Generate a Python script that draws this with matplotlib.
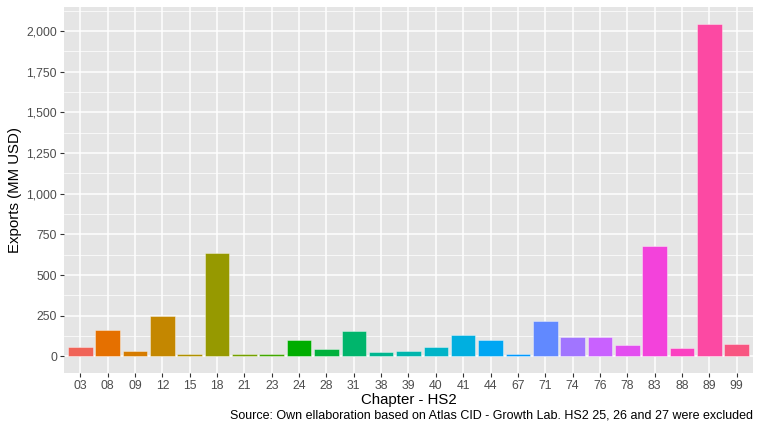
import numpy as np
import matplotlib
matplotlib.use("Agg")
import matplotlib.pyplot as plt
from matplotlib.ticker import MultipleLocator, FuncFormatter

chapters = ["03", "08", "09", "12", "15", "18", "21", "23", "24", "28", "31", "38", "39",
            "40", "41", "44", "67", "71", "74", "76", "78", "83", "88", "89", "99"]
exports = [59, 161, 34, 247, 12, 638, 12, 12, 98, 45, 157, 25, 33,
           55, 131, 100, 14, 215, 117, 117, 68, 677, 51, 2045, 74]
y_ticks = [0, 250, 500, 750, 1000, 1250, 1500, 1750, 2000]


def hcl_to_rgb(h, c=100.0, l=65.0):
    hr = np.deg2rad(h)
    u = c * np.cos(hr)
    v = c * np.sin(hr)
    Xn, Yn, Zn = 95.047, 100.0, 108.883
    un = 4 * Xn / (Xn + 15 * Yn + 3 * Zn)
    vn = 9 * Yn / (Xn + 15 * Yn + 3 * Zn)
    Y = Yn * ((l + 16) / 116) ** 3
    up = u / (13 * l) + un
    vp = v / (13 * l) + vn
    X = Y * 9 * up / (4 * vp)
    Z = Y * (12 - 3 * up - 20 * vp) / (4 * vp)
    X, Y, Z = X / 100, Y / 100, Z / 100
    r = 3.2404542 * X - 1.5371385 * Y - 0.4985314 * Z
    g = -0.9692660 * X + 1.8760108 * Y + 0.0415560 * Z
    b = 0.0556434 * X - 0.2040259 * Y + 1.0572252 * Z
    out = []
    for ch in (r, g, b):
        ch = min(max(ch, 0), 1)
        ch = 12.92 * ch if ch <= 0.0031308 else 1.055 * ch ** (1 / 2.4) - 0.055
        out.append(min(max(ch, 0), 1))
    return tuple(out)


n = len(chapters)
hues = np.linspace(15, 375, n + 1)[:n]
colors = [hcl_to_rgb(h, c=112, l=60) for h in hues]

plt.rcParams['font.family'] = ['Liberation Sans', 'DejaVu Sans']
fig = plt.figure(figsize=(7.61, 4.29), dpi=100)
ax = fig.add_axes([64 / 761, 1 - 373 / 429, (753 - 64) / 761, (373 - 7) / 429])
ax.set_facecolor("#E5E5E5")
x = np.arange(1, n + 1)
ax.bar(x, exports, width=0.9, color=colors, edgecolor=(1, 1, 1, 0.45), linewidth=0.6, zorder=3)

ymax = max(exports)
ax.set_ylim(-0.05 * ymax, 1.05 * ymax)
ax.set_xlim(0.4, n + 0.6)
ax.set_xticks(x)
ax.set_xticklabels(chapters)
ax.set_yticks(y_ticks)
ax.yaxis.set_minor_locator(MultipleLocator(125))
ax.yaxis.set_major_formatter(FuncFormatter(lambda v, p: f"{int(v):,}"))
ax.grid(which="major", color="white", linewidth=1.1, zorder=0)
ax.grid(which="minor", axis="y", color="white", linewidth=0.5, zorder=0)
ax.set_axisbelow(True)
for s in ax.spines.values():
    s.set_visible(False)
ax.tick_params(axis="both", which="major", length=3, width=0.8, color="#333333",
               labelcolor="#4D4D4D", labelsize=8.8, pad=2)
ax.tick_params(axis="y", which="minor", length=0)
ax.set_ylabel("Exports (MM USD)", fontsize=10.8, color="black", labelpad=3)
ax.set_xlabel("Chapter - HS2", fontsize=10.8, color="black", labelpad=1)
fig.text(753 / 761, 1 - 416 / 429, "Source: Own ellaboration based on Atlas CID - Growth Lab. HS2 25, 26 and 27 were excluded",
         ha="right", va="center", fontsize=9.0, color="black")
fig.savefig("out.png", dpi=100)
